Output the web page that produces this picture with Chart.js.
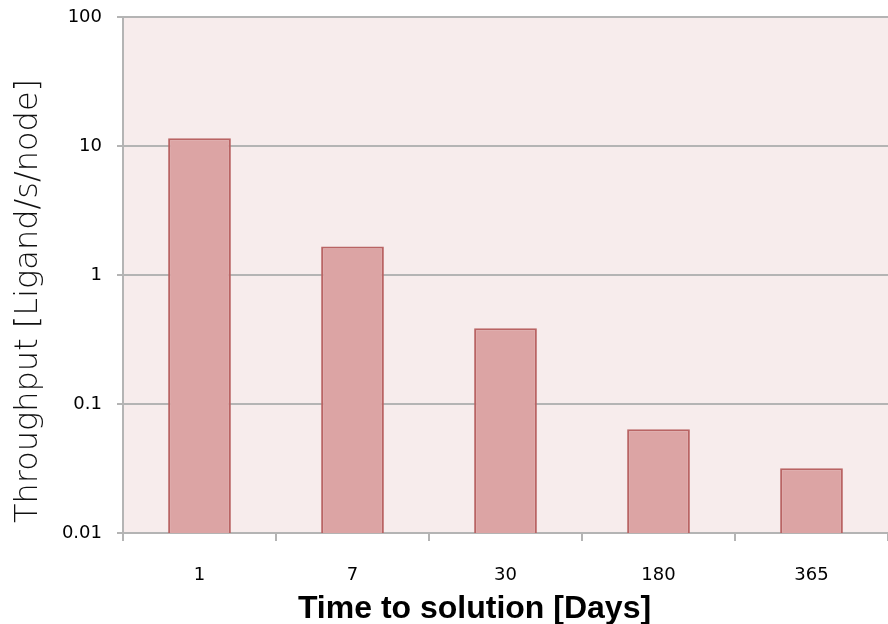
<!DOCTYPE html>
<html>
<head>
<meta charset="utf-8">
<script src="https://cdn.jsdelivr.net/npm/chart.js@4/dist/chart.umd.min.js"></script>
<style>
  html, body { margin: 0; padding: 0; background: #fff; }
  #wrap { width: 888px; height: 624px; }
</style>
</head>
<body>
<div id="wrap"><canvas id="myChart"></canvas></div>
<script>
// categories and values
var days = ['1', '7', '30', '180', '365'];
var throughput = [11.5, 1.66, 0.386, 0.0637, 0.0318];
var yTicks = [0.01, 0.1, 1, 10, 100];
var xTitle = 'Time to solution [Days]';
var yTitle = 'Throughput [Ligand/s/node]';

var gridGray = '#b4b4b4';

// pink plot background
var plotBg = {
    id: 'plotBg',
    beforeDraw: function(chart) {
        var a = chart.chartArea;
        var ctx = chart.ctx;
        ctx.save();
        ctx.fillStyle = '#f7ecec';
        ctx.fillRect(a.left, a.top, a.right - a.left, a.bottom - a.top);
        ctx.restore();
    }
};

// axis titles sit off-centre in the original, so draw them by hand
var axisTitles = {
    id: 'axisTitles',
    afterDraw: function(chart) {
        var a = chart.chartArea;
        var ctx = chart.ctx;
        ctx.save();
        ctx.fillStyle = '#000';
        ctx.textAlign = 'center';
        ctx.textBaseline = 'alphabetic';
        ctx.font = 'bold 32px "Liberation Sans", Arial, sans-serif';
        ctx.fillText(xTitle, (a.left + a.right) / 2 - 31, 618);

        ctx.translate(37, (a.top + a.bottom) / 2 + 26);
        ctx.rotate(-Math.PI / 2);
        ctx.fillStyle = '#111';
        ctx.font = '200 32px "DejaVu Sans", sans-serif';
        ctx.fillText(yTitle, 0, 0);
        ctx.restore();
    }
};

var ctx = document.getElementById('myChart');
var myChart = new Chart(ctx, {
    type: 'bar',
    data: {
        labels: days,
        datasets: [{
            data: throughput,
            backgroundColor: '#dca4a4',
            borderColor: '#b96464',
            borderWidth: 2,
            borderSkipped: 'start',
            categoryPercentage: 1,
            barPercentage: 0.41
        }]
    },
    options: {
        responsive: true,
        maintainAspectRatio: false,
        animation: false,
        layout: { padding: { top: 17, right: 0, left: 0, bottom: 0 } },
        plugins: {
            legend: { display: false },
            tooltip: { enabled: false }
        },
        scales: {
            x: {
                grid: {
                    offset: true,
                    drawOnChartArea: false,
                    drawTicks: true,
                    tickLength: 8,
                    color: gridGray,
                    lineWidth: 2
                },
                border: { display: true, color: gridGray, width: 2 },
                ticks: {
                    padding: 24,
                    color: '#000',
                    font: { family: '"DejaVu Sans", sans-serif', size: 18 }
                },
                afterFit: function(scale) { scale.height = 91; }
            },
            y: {
                type: 'logarithmic',
                min: 0.01,
                max: 100,
                afterBuildTicks: function(scale) {
                    scale.ticks = yTicks.map(function(v) { return { value: v }; });
                },
                grid: {
                    color: gridGray,
                    lineWidth: 2,
                    tickLength: 6
                },
                border: { display: true, color: gridGray, width: 2 },
                ticks: {
                    padding: 15,
                    color: '#000',
                    font: { family: '"DejaVu Sans", sans-serif', size: 18 },
                    callback: function(v) { return String(v); }
                },
                afterFit: function(scale) {
                    scale.width = 123;
                    scale.paddingTop = 0;
                    scale.paddingBottom = 0;
                }
            }
        }
    },
    plugins: [plotBg, axisTitles]
});
</script>
</body>
</html>
